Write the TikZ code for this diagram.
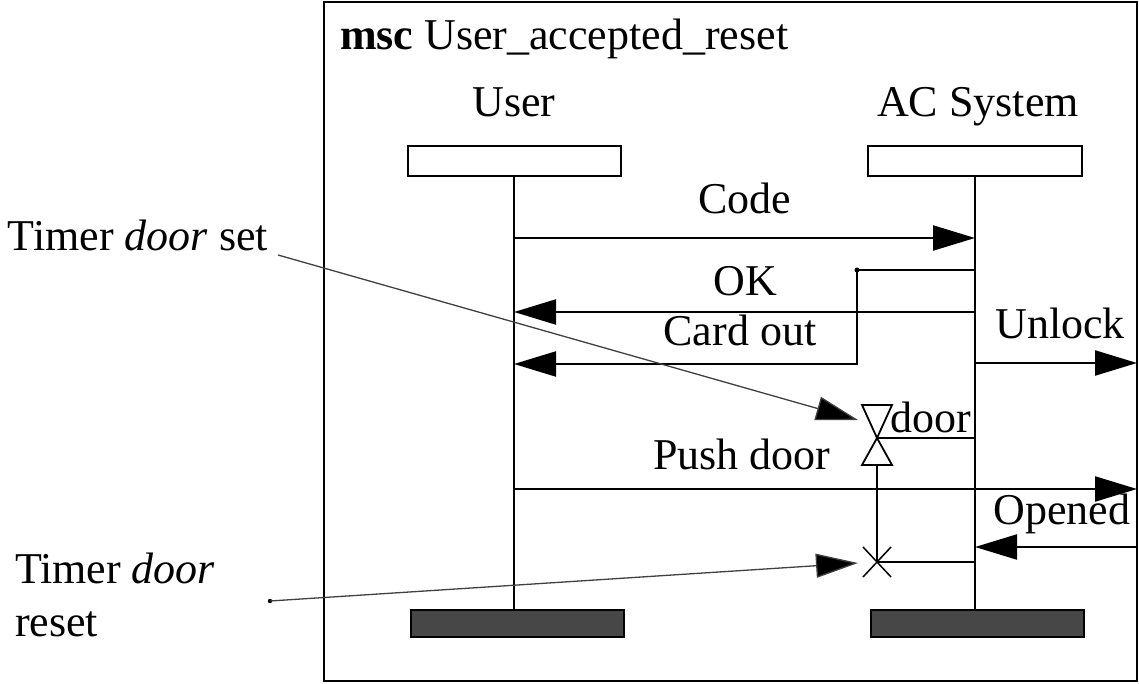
\documentclass[tikz,border=0pt]{standalone}
\usepackage{fontspec}
\setmainfont{Liberation Serif}
\usetikzlibrary{arrows.meta}
\begin{document}
\begin{tikzpicture}[x=1pt,y=-1pt,
  every node/.style={font=\fontsize{44}{50}\selectfont, inner sep=0pt, outer sep=0pt},
  lifeline/.style={line width=2.2pt},
  headbox/.style={draw, line width=2.2pt, fill=white},
  endbar/.style={draw, line width=1.5pt, fill=black!72},
  msg/.style={line width=2.2pt, -{Triangle[length=42pt,width=25pt]}},
  note/.style={line width=1.3pt, draw=black!75, -{Triangle[length=42pt,width=24pt,fill=black]}},
  label/.style={anchor=base}]
\useasboundingbox (0,0) rectangle (1139,684);

% frame and title
\draw[line width=2.5pt] (324,2) rectangle (1137,681);
\node[anchor=base west] (title) at (340,50) {\textbf{msc} User\_accepted\_reset};

% instance heads
\node[label] (userlbl) at (514,117) {User};
\node[label] (aclbl) at (978,117) {AC System};
\draw[headbox] (408,146) rectangle (621,176);
\draw[headbox] (868,146) rectangle (1082,176);
\coordinate (uhead) at (514,176);
\coordinate (ahead) at (975,176);
\coordinate (uend) at (514,610);
\coordinate (aend) at (975,610);
\draw[lifeline] (uhead) -- (uend);
\draw[lifeline] (ahead) -- (aend);
\draw[endbar] (411,610) rectangle (624,637);
\draw[endbar] (871,610) rectangle (1084,637);

% messages
\coordinate (codeS) at (514,238);  \coordinate (codeE) at (975,238);
\draw[msg] (codeS) -- (codeE);
\node[label] (code) at (745,214) {Code};

\coordinate (okS) at (975,312);  \coordinate (okE) at (514,312);
\draw[msg] (okS) -- (okE);
\node[label] (ok) at (745,295) {OK};

\coordinate (cardS) at (975,270); \coordinate (cardK) at (857,270);
\coordinate (cardE) at (514,364);
\draw[msg] (cardS) -- (cardK) |- (cardE);
\fill (cardK) circle (2.5pt);
\node[label] (card) at (740,345) {Card out};

\coordinate (unlS) at (975,363); \coordinate (unlE) at (1137,363);
\draw[msg] (unlS) -- (unlE);
\node[label] (unlock) at (1060,338) {Unlock};

\coordinate (pushS) at (514,489); \coordinate (pushE) at (1137,489);
\draw[msg] (pushS) -- (pushE);
\node[label] (push) at (742,469) {Push door};

\coordinate (opS) at (1137,547); \coordinate (opE) at (975,547);
\draw[msg] (opS) -- (opE);
\node[label] (opened) at (1062,524) {Opened};

% timer set (hourglass) and reset (cross)
\coordinate (tset) at (877,438);
\coordinate (treset) at (877,562);
\draw[line width=1.8pt, line join=miter]
  (tset) -- (862,405) -- (892,405) -- cycle
  (tset) -- (862,465) -- (892,465) -- cycle;
\draw[lifeline] (tset) -- (975,438);
\draw[lifeline] (877,465) -- (treset);
\draw[line width=1.5pt] (863,547) -- (891,577) (863,577) -- (891,547);
\draw[lifeline] (treset) -- (975,562);
\node[anchor=base west] (door) at (890,432) {door};

% annotations
\node[anchor=base west] (nset) at (8,251) {Timer \textit{door} set};
\node[anchor=base west] (nreset1) at (15,583) {Timer \textit{door}};
\node[anchor=base west] (nreset2) at (15,636) {reset};
\coordinate (setS) at (278,255);
\coordinate (setE) at (858,420);
\draw[note] (setS) -- (setE);
\coordinate (resS) at (270,601);
\coordinate (resE) at (858,563);
\fill (resS) circle (2.2pt);
\draw[note] (resS) -- (resE);
\end{tikzpicture}
\end{document}
